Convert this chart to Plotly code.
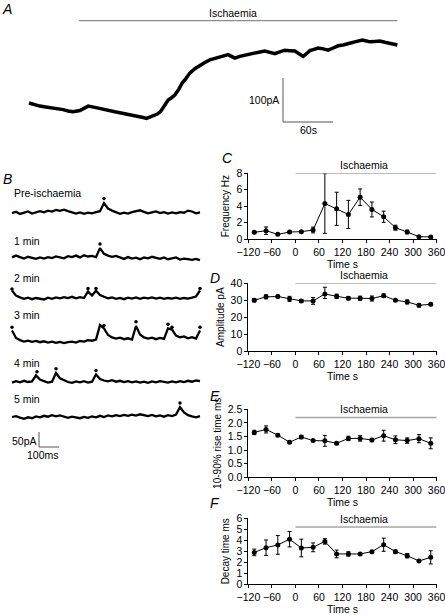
import plotly.graph_objects as go

W, H = 445, 615
FONT = "Liberation Sans, Arial, sans-serif"

def fx(p):
    return p / W

def fy(p):
    return 1 - p / H

# ---------------- Data: summary panels C-F ----------------
time_bins = [-105, -75, -45, -15, 15, 45, 75, 105, 135, 165, 195, 225, 255, 285, 315, 345]
freq = [0.84, 1.04, 0.6, 0.88, 0.92, 1.12, 4.32, 3.68, 3.0, 5.08, 3.6, 2.72, 1.4, 0.88, 0.32, 0.28]
freq_err = [0.15, 0.45, 0.1, 0.1, 0.1, 0.35, 3.6, 2.0, 1.7, 1.0, 0.9, 0.68, 0.3, 0.22, 0.1, 0.1]
amp = [30.0, 32.0, 32.2, 30.8, 29.6, 29.6, 33.7, 32.3, 31.2, 31.2, 31.0, 32.7, 30.0, 29.0, 27.0, 27.6]
amp_err_plus = [1.0, 1.2, 0.8, 1.5, 0.8, 2.0, 4.0, 1.3, 1.0, 1.2, 1.5, 1.0, 0.6, 1.2, 1.0, 0.8]
amp_err_minus = [1.0, 1.2, 0.8, 1.5, 0.8, 2.0, 2.7, 1.3, 1.0, 1.2, 1.5, 1.0, 0.6, 1.2, 1.0, 0.8]
rise = [1.65, 1.76, 1.55, 1.29, 1.48, 1.35, 1.34, 1.25, 1.43, 1.43, 1.37, 1.53, 1.38, 1.35, 1.42, 1.25]
rise_err = [0.08, 0.13, 0.05, 0.03, 0.06, 0.03, 0.2, 0.05, 0.08, 0.1, 0.06, 0.2, 0.14, 0.1, 0.15, 0.2]
decay = [2.9, 3.33, 3.58, 4.1, 3.3, 3.36, 3.9, 2.76, 2.76, 2.76, 2.97, 3.6, 2.97, 2.6, 2.12, 2.45]
decay_err = [0.3, 0.7, 0.85, 0.7, 0.8, 0.4, 0.25, 0.35, 0.2, 0.1, 0.1, 0.6, 0.15, 0.2, 0.1, 0.6]
x_ticks = [-120, -60, 0, 60, 120, 180, 240, 300, 360]
isch_period = [0, 360]

# ---------------- Data: panel A holding current trace ----------------
trace_a_t = [0, 7, 13, 20, 28, 35, 41, 47, 53, 61, 66, 71, 79, 85, 91, 97, 103, 109, 115, 121,
             127, 132, 137, 141, 145, 150, 154, 158, 161, 164, 167, 171, 175, 180, 184, 188,
             193, 199, 205, 211, 217, 223, 229, 234, 239, 243, 247, 253, 259, 265, 271, 277,
             283, 289, 295, 301, 307, 313, 319, 324, 329, 333, 337, 342, 347, 353, 359, 365,
             371, 377, 383, 387, 391, 396, 400, 405, 409, 415, 421, 427, 433, 438, 442]
trace_a_i = [50, 46, 43, 41, 39, 36, 35, 32, 30, 33, 38, 43, 40, 37, 34, 32, 30, 28, 26, 23,
             21, 19, 17, 15, 18, 21, 25, 31, 39, 47, 57, 62, 68, 82, 96, 105, 118, 128, 136,
             142, 148, 151, 155, 158, 160, 156, 152, 156, 159, 161, 164, 166, 168, 165, 162,
             166, 170, 169, 168, 162, 156, 162, 169, 172, 175, 173, 170, 175, 180, 182, 184,
             187, 189, 191, 193, 191, 189, 190, 191, 188, 186, 184, 182]
isch_a = [60, 442]

# ---------------- Data: panel B sample traces ----------------
t_ms = [0, 20, 40, 60, 80, 100, 120, 140, 160, 180, 200, 220, 240, 260, 280, 300, 320, 340,
        360, 380, 400, 420, 440, 460, 480, 500, 520, 540, 560, 580, 600, 620, 640, 660, 680,
        700, 720, 740, 760, 780, 800, 820, 840, 860, 880, 900, 920, 940]
b_labels = ["Pre-ischaemia", "1 min", "2 min", "3 min", "4 min", "5 min"]
b_pre = [0, 4, -3, 2, 5, -2, 3, 6, 2, 8, 5, 10, 7, 11, 6, 3, -2, 2, -3, 1, -1, 3, 6, 33,
         15, 8, 2, -3, 1, -2, 3, 6, 9, 4, -1, 2, 5, 0, 3, -2, 2, -1, 3, 1, 8, 5, -1, 2]
b_1 = [2, 8, 3, -2, 4, 1, -3, 2, -2, 3, 0, 5, 2, -1, 6, 3, 8, 2, 9, 5, 7, 3, 33, 14,
       8, 4, 7, 2, -3, 3, -2, 1, -4, 2, -1, 4, 0, -3, 2, -4, -1, 2, -5, -2, -4, -6, -3, -7]
b_2 = [25, 8, 2, -3, 1, -4, 0, -2, -5, 1, -3, 2, -1, 3, 0, 4, -1, 3, 0, 22, 8, 24, 10, 4,
       -1, 2, -3, 0, -4, 1, -2, 2, -3, 1, -1, 2, -2, 1, -3, 0, -2, 1, -3, 0, -2, 1, 5, 25]
b_3 = [35, 10, 3, -2, 1, -3, 0, -4, -1, -5, -2, -6, -3, -7, -4, -2, -5, 0, -2, 3, 1, 5, 53, 42,
       20, 12, 8, 11, 6, 9, 5, 50, 22, 12, 8, 11, 6, 10, 7, 42, 38, 18, 12, 15, 9, 13, 8, 35]
b_4 = [-2, 3, -1, 4, 0, 2, 22, 8, 3, -2, 1, 30, 12, 5, 0, -3, 2, -1, 3, -2, 1, 25, 10, 5,
       2, 6, 1, 4, 0, 3, -1, 2, -2, 1, -3, 2, -1, 3, 0, -2, 2, -1, 3, 0, 4, 1, 5, 3]
b_5 = [0, 3, -2, -6, -1, -4, 2, -1, 4, 1, 6, 2, 5, 0, -3, 1, -2, -4, 0, -3, 2, -1, 4, 0,
       5, 2, 6, 3, 7, 4, 8, 5, 9, 6, 3, 7, 2, 5, 1, 6, 3, 8, 33, 15, 6, 2, -1, 3]
b_traces = [b_pre, b_1, b_2, b_3, b_4, b_5]
b_dots_t = [[460], [440], [0, 380, 420, 940], [0, 440, 460, 620, 780, 800, 940], [125, 220, 420], [840]]
b_dots_i = [[48], [47], [30, 32, 32, 32], [46, 67, 52, 64, 56, 46, 46], [34, 44, 38], [47]]

# ---------------- Layout geometry (pixels) ----------------
c_x0, c_x1 = 248.4, 436.6
panels = [
    dict(yb=239.3, yt=173.0, rng=[0, 8], dtick=2, fmt="d", title="Frequency Hz",
         y=freq, ep=freq_err, em=freq_err, isch=8.0, letter="C", lx=228, ly=158),
    dict(yb=351.0, yt=283.3, rng=[0, 40], dtick=10, fmt="d", title="Amplitude pA",
         y=amp, ep=amp_err_plus, em=amp_err_minus, isch=40.0, letter="D", lx=215, ly=278),
    dict(yb=477.3, yt=409.3, rng=[0, 2.5], dtick=0.5, fmt=".1f", title="10-90% rise time ms",
         y=rise, ep=rise_err, em=rise_err, isch=2.2, letter="E", lx=215, ly=396),
    dict(yb=584.3, yt=518.3, rng=[0, 6], dtick=1, fmt="d", title="Decay time ms",
         y=decay, ep=decay_err, em=decay_err, isch=5.2, letter="F", lx=215, ly=503),
]

fig = go.Figure()
layout = dict(
    width=W, height=H, margin=dict(l=0, r=0, t=0, b=0),
    paper_bgcolor="white", plot_bgcolor="white", showlegend=False,
    font=dict(family=FONT, size=10, color="black"),
)
annotations = []

def paper_text(x, y, text, size=10.5, xanchor="center"):
    return dict(x=fx(x), y=fy(y), xref="paper", yref="paper", text=text, showarrow=False,
                xanchor=xanchor, yanchor="middle", font=dict(size=size, family=FONT))

for i, p in enumerate(panels):
    n = i + 1
    xa = "x" if n == 1 else f"x{n}"
    ya = "y" if n == 1 else f"y{n}"
    fig.add_trace(go.Scatter(
        x=time_bins, y=p["y"], mode="lines+markers", xaxis=xa, yaxis=ya,
        line=dict(color="black", width=1),
        marker=dict(color="black", size=5, symbol="circle"),
        error_y=dict(type="data", array=p["ep"], arrayminus=p["em"], symmetric=False,
                     color="black", thickness=1, width=2),
        cliponaxis=False,
    ))
    fig.add_trace(go.Scatter(
        x=isch_period, y=[p["isch"], p["isch"]], mode="lines", xaxis=xa, yaxis=ya,
        line=dict(color="#a6a6a6", width=1.5), cliponaxis=False, hoverinfo="skip",
    ))
    annotations.append(dict(
        x=175, y=p["isch"], xref=xa, yref=ya, text="Ischaemia", showarrow=False,
        xanchor="center", yanchor="bottom", font=dict(size=10.5, family=FONT),
    ))
    annotations.append(paper_text(p["lx"], p["ly"], f"<i>{p['letter']}</i>", size=14))
    axis_common = dict(showline=True, linecolor="black", linewidth=1, ticks="outside",
                       ticklen=3, tickcolor="black", showgrid=False, zeroline=False,
                       tickfont=dict(size=10.5, family=FONT), automargin=False,
                       ticklabeloverflow="allow")
    layout["xaxis" if n == 1 else f"xaxis{n}"] = dict(
        domain=[fx(c_x0), fx(c_x1)], anchor=ya, range=[-120, 360],
        tickvals=x_ticks, title=dict(text="Time s", standoff=2, font=dict(size=10.5)),
        **axis_common)
    layout["yaxis" if n == 1 else f"yaxis{n}"] = dict(
        domain=[fy(p["yb"]), fy(p["yt"])], anchor=xa, range=p["rng"], dtick=p["dtick"],
        tickformat=p["fmt"], title=dict(text=p["title"], standoff=4, font=dict(size=10)),
        **axis_common)

# ---------------- Panel A ----------------
a_px0, a_px1 = 20, 420
a_py0, a_py1 = 130, 10
fig.add_trace(go.Scatter(x=trace_a_t, y=trace_a_i, mode="lines", xaxis="x5", yaxis="y5",
                         line=dict(color="black", width=3.5), hoverinfo="skip"))
fig.add_trace(go.Scatter(x=isch_a, y=[237, 237], mode="lines", xaxis="x5", yaxis="y5",
                         line=dict(color="#8c8c8c", width=1.2), hoverinfo="skip"))
fig.add_trace(go.Scatter(x=[304.8, 304.8, 364.8], y=[106.8, 6.8, 6.8], mode="lines",
                         xaxis="x5", yaxis="y5", line=dict(color="#555555", width=1),
                         hoverinfo="skip"))
hidden = dict(visible=False, showgrid=False, zeroline=False, fixedrange=True)
layout["xaxis5"] = dict(domain=[fx(a_px0), fx(a_px1)], range=[(a_px0 - 29) * 1.2, (a_px1 - 29) * 1.2],
                        anchor="y5", **hidden)
layout["yaxis5"] = dict(domain=[fy(a_py0), fy(a_py1)], range=[(125 - a_py0) * 100 / 44, (125 - a_py1) * 100 / 44],
                        anchor="x5", **hidden)
annotations += [
    dict(x=244.8, y=237, xref="x5", yref="y5", text="Ischaemia", showarrow=False,
         xanchor="center", yanchor="bottom", font=dict(size=10.5)),
    dict(x=302, y=56.8, xref="x5", yref="y5", text="100pA", showarrow=False,
         xanchor="right", yanchor="middle", font=dict(size=10.5)),
    dict(x=334.8, y=6.8, xref="x5", yref="y5", text="60s", showarrow=False,
         xanchor="center", yanchor="top", font=dict(size=10.5)),
    paper_text(7, 9, "<i>A</i>", size=14),
    paper_text(7, 179, "<i>B</i>", size=14),
]

# ---------------- Panel B ----------------
b_px0, b_px1 = 5, 210
baselines = [213, 258, 298, 341, 382, 417]
label_y = [193, 241, 278, 315, 363, 399]
layout["xaxis6"] = dict(domain=[fx(b_px0), fx(b_px1)], range=[(b_px0 - 12) * 5, (b_px1 - 12) * 5],
                        anchor="y6", **hidden)
for k, (vals, pb) in enumerate(zip(b_traces, baselines)):
    yname = f"y{6 + k}"
    bottom = pb + (35 if k == 5 else 10)
    top = pb - 20
    layout[f"yaxis{6 + k}"] = dict(domain=[fy(bottom), fy(top)],
                                   range=[-(bottom - pb) / 0.3, (pb - top) / 0.3],
                                   anchor="x6", **hidden)
    fig.add_trace(go.Scatter(x=t_ms, y=vals, mode="lines", xaxis="x6", yaxis=yname,
                             line=dict(color="black", width=2.3), hoverinfo="skip",
                             cliponaxis=False))
    fig.add_trace(go.Scatter(x=b_dots_t[k], y=b_dots_i[k], mode="markers", xaxis="x6", yaxis=yname,
                             marker=dict(color="black", size=3.5), hoverinfo="skip",
                             cliponaxis=False))
    annotations.append(paper_text(12, label_y[k], b_labels[k], size=10.5, xanchor="left"))
fig.add_trace(go.Scatter(x=[135, 135, 235], y=[-50, -100, -100], mode="lines",
                         xaxis="x6", yaxis="y11", line=dict(color="#555555", width=1),
                         hoverinfo="skip", cliponaxis=False))
annotations += [
    dict(x=133, y=-80, xref="x6", yref="y11", text="50pA", showarrow=False,
         xanchor="right", yanchor="middle", font=dict(size=10.5)),
    dict(x=155, y=-100, xref="x6", yref="y11", text="100ms", showarrow=False,
         xanchor="center", yanchor="top", font=dict(size=10.5)),
]

layout["annotations"] = annotations
fig.update_layout(**layout)
fig.write_html("out.html", config={"displayModeBar": False},
               post_script="document.body.style.margin='0px';")
